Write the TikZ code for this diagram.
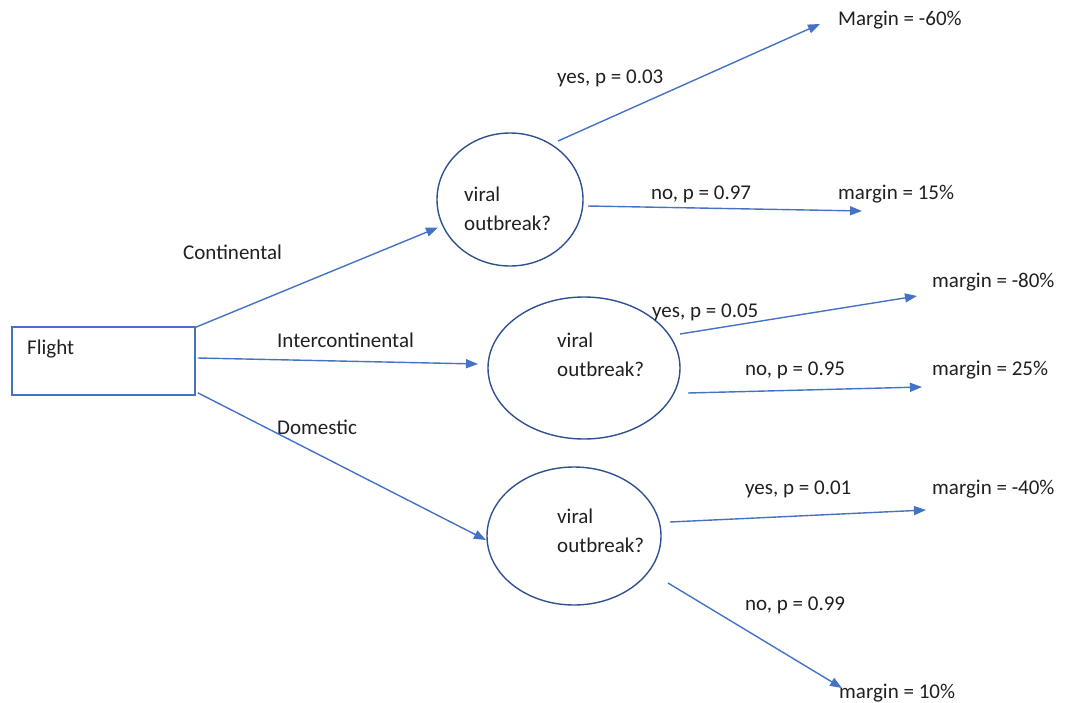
\documentclass[tikz,border=0pt]{standalone}
\usepackage{fontspec}
\setmainfont{Carlito}
\usetikzlibrary{arrows.meta,shapes.geometric}
\definecolor{lineblue}{HTML}{4472C4}
\definecolor{navy}{HTML}{2F528F}
\definecolor{txt}{HTML}{202020}
\begin{document}
\begin{tikzpicture}[x=1pt,y=-1pt,
  every node/.style={font=\fontsize{21}{29}\selectfont},
  lbl/.style={anchor=base west, inner sep=0pt, text=txt},
  conn/.style={draw=lineblue, line width=1.4pt, -{Triangle[length=12pt,width=9pt]}},
  chance/.style={ellipse, draw=navy, line width=1.4pt, inner sep=0pt},
  box/.style={rectangle, draw=lineblue, line width=1.6pt, inner sep=0pt}]
\path[use as bounding box] (0,0) rectangle (1066,702);

% root
\node[box, minimum width=183pt, minimum height=68pt] (flight) at (103.5,361) {};
\node[lbl] (flightlbl) at (27,354) {Flight};

% chance nodes
\node[chance, minimum width=146pt, minimum height=133pt] (e1) at (510,199.5) {};
\node[chance, minimum width=192pt, minimum height=142pt] (e2) at (584,368) {};
\node[chance, minimum width=174pt, minimum height=138pt] (e3) at (574,536) {};
\node[lbl, align=left] (v1) at (464,230) {viral\\outbreak?};
\node[lbl, align=left] (v2) at (557,376) {viral\\outbreak?};
\node[lbl, align=left] (v3) at (557,552) {viral\\outbreak?};

% branch labels
\node[lbl] (lc) at (183,259) {Continental};
\node[lbl] (li) at (277,347) {Intercontinental};
\node[lbl] (ld) at (277,434) {Domestic};
\node[lbl] (y1) at (557,83) {yes, p = 0.03};
\node[lbl] (n1) at (651,199) {no, p = 0.97};
\node[lbl] (y2) at (652,317) {yes, p = 0.05};
\node[lbl] (n2) at (745,375) {no, p = 0.95};
\node[lbl] (y3) at (745,494) {yes, p = 0.01};
\node[lbl] (n3) at (745,610) {no, p = 0.99};

% outcomes
\node[lbl] (m1) at (838,25) {Margin = -60\%};
\node[lbl] (m2) at (838,199) {margin = 15\%};
\node[lbl] (m3) at (932,287) {margin = -80\%};
\node[lbl] (m4) at (932,375) {margin = 25\%};
\node[lbl] (m5) at (932,494) {margin = -40\%};
\node[lbl] (m6) at (839,698) {margin = 10\%};

% arrow tips near outcomes
\coordinate (t1) at ([shift={(-18,-1)}]m1.base west);
\coordinate (t2) at ([shift={(24,12)}]m2.base west);
\coordinate (t3) at ([shift={(-15,9)}]m3.base west);
\coordinate (t4) at ([shift={(-10,12)}]m4.base west);
\coordinate (t5) at ([shift={(-6,16)}]m5.base west);
\coordinate (t6) at ([shift={(3,-10)}]m6.base west);

% connectors
\draw[conn] ([shift={(0,1)}]flight.north east) -- ([shift={(-72,28)}]e1.center);
\draw[conn] ([shift={(2,-3)}]flight.east) -- ([shift={(-106,-4)}]e2.center);
\draw[conn] ([shift={(2,-3)}]flight.south east) -- ([shift={(-88,4)}]e3.center);

\draw[conn] ([shift={(48,-58.5)}]e1.center) -- (t1);
\draw[conn] ([shift={(78,6.5)}]e1.center) -- (t2);
\draw[conn] ([shift={(96,-34)}]e2.center) -- (t3);
\draw[conn] ([shift={(104,25)}]e2.center) -- (t4);
\draw[conn] ([shift={(96,-14)}]e3.center) -- (t5);
\draw[conn] ([shift={(94,47)}]e3.center) -- (t6);
\end{tikzpicture}
\end{document}
